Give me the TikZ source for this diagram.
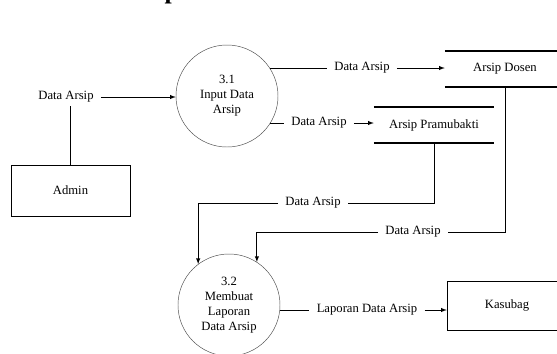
\documentclass[tikz,border=0pt]{standalone}
\usepackage{fontspec}
\setmainfont{Liberation Serif}
\usetikzlibrary{positioning}

\begin{document}
\begin{tikzpicture}[x=0.03cm,y=-0.03cm,>=latex,
    every node/.style={font=\fontsize{10.8}{12.8}\selectfont},
    proses/.style={draw=black!70,circle,minimum size=3.06cm,inner sep=0pt,align=center},
    entitas/.style={draw,rectangle,minimum width=3.57cm,minimum height=1.53cm},
    simpan/.style={minimum width=3.6cm,minimum height=1.08cm},
    garis/.style={line width=1.6pt},
    aliran/.style={line width=0.7pt},
    teks/.style={inner xsep=6pt,inner ysep=3pt}]
      \useasboundingbox (0,0) rectangle (557,353);
      \node[anchor=base west,inner sep=0pt,font=\fontsize{22}{22}\selectfont\bfseries] (judul) at (164.5,-1.5) {p};
      % proses dan entitas
      \node[proses] (p31) at (227,96) {3.1\\Input Data\\Arsip};
      \node[proses] (p32) at (229,305) {3.2\\Membuat\\Laporan\\Data Arsip};
      \node[entitas] (admin) at (70.5,190.5) {Admin};
      \node[entitas,minimum width=3.6cm,minimum height=1.47cm] (kasubag) at (507,305.5) {Kasubag};
      % data store
      \node[simpan] (dosen) at (505,69) {Arsip Dosen}; \node[simpan] (pramu) at (434,125) {Arsip Pramubakti};
      \draw[garis] (dosen.north west) -- (dosen.north east) (dosen.south west) -- (dosen.south east);
      \draw[garis] (pramu.north west) -- (pramu.north east) (pramu.south west) -- (pramu.south east);
      % label aliran
      \node[teks] (d1) at (66,97) {Data Arsip}; \node[teks] (d2) at (362,68) {Data Arsip};
      \node[teks] (d3) at (319,123) {Data Arsip}; \node[teks] (d4) at (313,203) {Data Arsip};
      \node[teks] (d5) at (413,232) {Data Arsip}; \node[teks] (lap) at (367,310) {Laporan Data Arsip};
      % aliran data
      \draw[aliran,->] (d1) -- (d1 -| p31.west); \draw[aliran] (admin.north) -- (admin.north |- d1.south);
      \draw[aliran] (p31.33) -- (p31.33 -| d2.west); \draw[aliran,->] (d2.east) -- (d2.east -| dosen.west);
      \draw[aliran] (p31.-32) -- (p31.-32 -| d3.west); \draw[aliran,->] (d3.east) -- (d3.east -| pramu.west);
      \draw[aliran] (pramu.south) |- (d4.east); \draw[aliran,->] (d4.west) -| (p32.127);
      \draw[aliran] (dosen.south) |- (d5.east); \draw[aliran,->] (d5.west) -| (p32.57);
      \draw[aliran] (p32.-6) -- (p32.-6 -| lap.west); \draw[aliran,->] (lap.east) -- (lap.east -| kasubag.west);
    \end{tikzpicture}
\end{document}
